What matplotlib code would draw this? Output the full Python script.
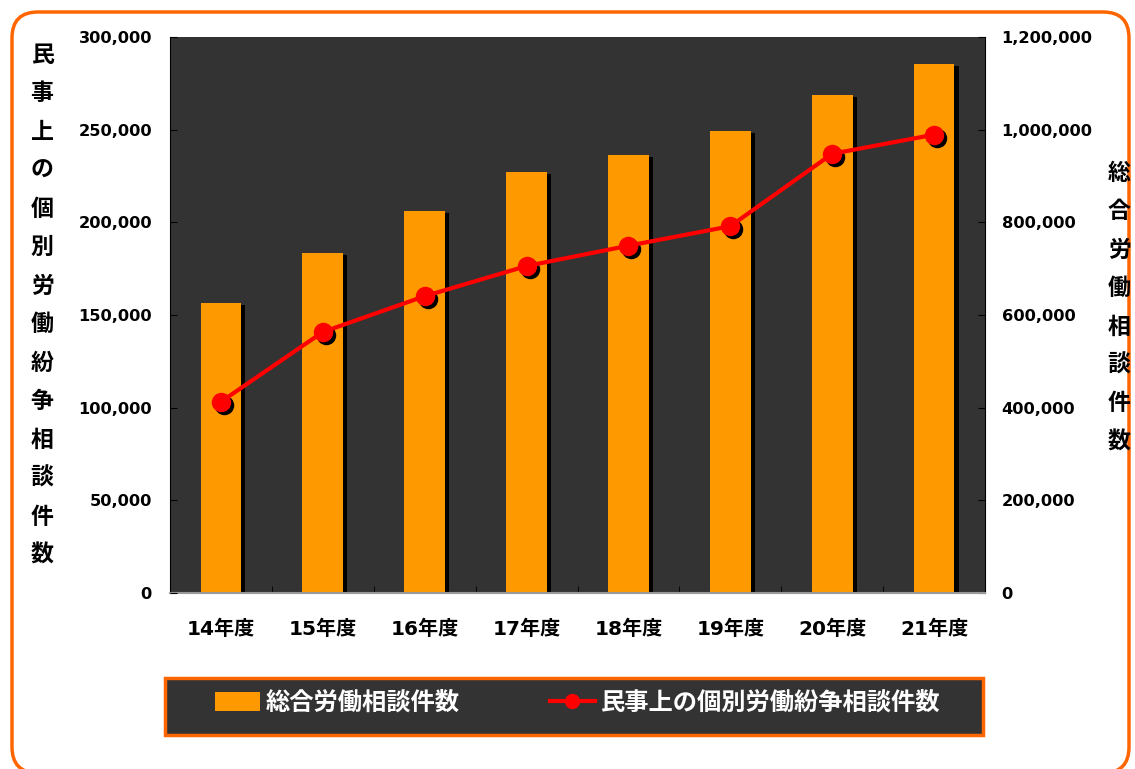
import matplotlib
matplotlib.use("Agg")
import matplotlib.pyplot as plt
from matplotlib.patches import Rectangle, FancyBboxPatch, Patch
from matplotlib.lines import Line2D
from matplotlib import patheffects as pe
from matplotlib.transforms import offset_copy
from matplotlib.ticker import FuncFormatter, FixedLocator

plt.rcParams['font.family'] = ['DejaVu Sans', 'Noto Sans CJK JP']

categories = ["14年度", "15年度", "16年度", "17年度", "18年度", "19年度", "20年度", "21年度"]
total_consultations = [625572, 734257, 823864, 907869, 946012, 997237, 1075021, 1141006]
civil_disputes = [103194, 140822, 160166, 176429, 187387, 197904, 236993, 247302]
bar_label = "総合労働相談件数"
line_label = "民事上の個別労働紛争相談件数"
left_axis_title = "民事上の個別労働紛争相談件数"
right_axis_title = "総合労働相談件数"

W, H = 1135, 769
fig = plt.figure(figsize=(W / 100, H / 100), dpi=100)
fig.patch.set_facecolor("white")

def fx(px):
    return px / W

def fy(py):
    return 1 - py / H

ax_bar = fig.add_axes([fx(170), fy(593), fx(985) - fx(170), fy(37) - fy(593)])
ax_bar.set_facecolor("#333333")
ax_line = ax_bar.twinx()

xs = list(range(len(categories)))
bars = ax_bar.bar(xs, total_consultations, width=0.4, color="#FF9900", zorder=2)
for b in bars:
    b.set_path_effects([pe.SimplePatchShadow(offset=(3, -1.5), shadow_rgbFace="black", alpha=1.0), pe.Normal()])

ax_bar.set_ylim(0, 1200000)
ax_bar.set_xlim(-0.5, len(categories) - 0.5)
ax_bar.yaxis.tick_right()
ax_bar.yaxis.set_major_locator(FixedLocator([0, 200000, 400000, 600000, 800000, 1000000, 1200000]))

ax_line.set_ylim(0, 300000)
ax_line.yaxis.tick_left()
ax_line.yaxis.set_major_locator(FixedLocator([0, 50000, 100000, 150000, 200000, 250000, 300000]))

shadow_tr = offset_copy(ax_line.transData, fig=fig, x=3, y=-3, units="dots")
ax_line.plot(xs, civil_disputes, linestyle="none", marker="o", markersize=13, color="black",
             transform=shadow_tr, zorder=2)
ax_line.plot(xs, civil_disputes, color="#FF0000", linewidth=3, zorder=3)
ax_line.plot(xs, civil_disputes, linestyle="none", marker="o", markersize=13, color="#FF0000", zorder=4)

fmt = FuncFormatter(lambda v, p: f"{int(v):,}")
for a in (ax_bar, ax_line):
    a.yaxis.set_major_formatter(fmt)
    for s in a.spines.values():
        s.set_visible(False)

ax_bar.spines["left"].set_visible(True)
ax_bar.spines["left"].set_color("black")
ax_bar.spines["right"].set_visible(True)
ax_bar.spines["right"].set_color("black")
ax_bar.spines["bottom"].set_visible(True)
ax_bar.spines["bottom"].set_color("#999999")
ax_bar.spines["bottom"].set_linewidth(1.5)

ax_bar.tick_params(axis="y", direction="in", length=5, color="black", pad=12,
                   labelsize=11.7, labelcolor="black")
ax_line.tick_params(axis="y", direction="in", length=5, color="black", pad=13,
                    labelsize=11.7, labelcolor="black")
for lab in ax_bar.get_yticklabels() + ax_line.get_yticklabels():
    lab.set_fontweight("bold")

ax_bar.set_xticks(xs)
ax_bar.set_xticklabels(categories, fontsize=14.5, fontweight="bold")
ax_bar.set_xticks([x + 0.5 for x in xs[:-1]], minor=True)
ax_bar.tick_params(axis="x", which="major", length=0, pad=19)
ax_bar.tick_params(axis="x", which="minor", direction="in", length=5, color="black")
ax_line.tick_params(axis="x", length=0)

# Vertical axis titles
for i, ch in enumerate(left_axis_title):
    fig.text(fx(42), fy(55 + i * 38.5), ch, ha="center", va="center", fontsize=16.5,
             fontweight="bold", family=["Noto Sans CJK JP"])
for i, ch in enumerate(right_axis_title):
    fig.text(fx(1119), fy(173 + i * 38.5), ch, ha="center", va="center", fontsize=16.5,
             fontweight="bold", family=["Noto Sans CJK JP"])

# Legend box
fig.patches.append(Rectangle((fx(165), fy(735)), fx(983) - fx(165), fy(678) - fy(735),
                             transform=fig.transFigure, facecolor="#333333",
                             edgecolor="#FF6600", linewidth=2.5, zorder=0))
handles = [Patch(facecolor="#FF9900", edgecolor="none"),
           Line2D([], [], color="#FF0000", linewidth=3, marker="o", markersize=10)]
leg = fig.legend(handles, [bar_label, line_label], loc="center left",
                 bbox_to_anchor=(fx(215), fy(703)), bbox_transform=fig.transFigure,
                 frameon=False, ncol=2, borderpad=0, borderaxespad=0,
                 handlelength=1.85, handleheight=0.78, handletextpad=0.25, columnspacing=3.7,
                 prop={"family": ["Noto Sans CJK JP"], "weight": "bold", "size": 17.5})
for t in leg.get_texts():
    t.set_color("white")

# Outer rounded border
fig.patches.append(FancyBboxPatch((12, -4), 1129 - 12, 757 + 4,
                                  boxstyle="round,pad=0,rounding_size=26",
                                  transform=None, facecolor="none",
                                  edgecolor="#FF6600", linewidth=2.5, zorder=0))

fig.savefig("out.png", dpi=100)
